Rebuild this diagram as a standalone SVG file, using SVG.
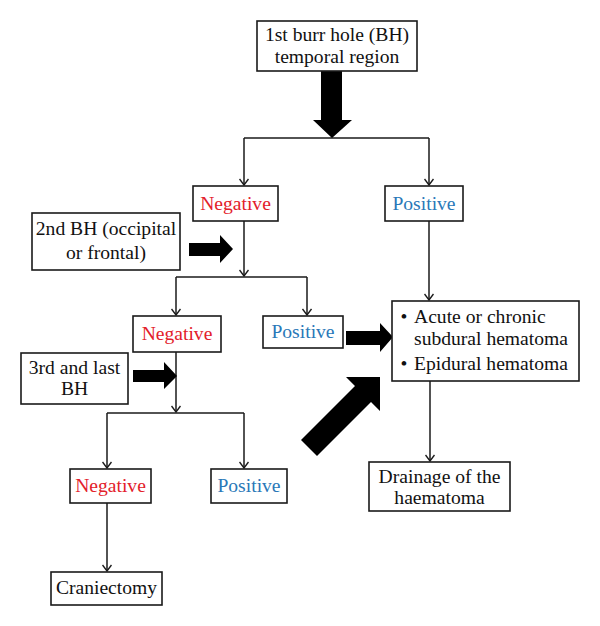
<svg xmlns="http://www.w3.org/2000/svg" width="600" height="626" viewBox="0 0 600 626">
<defs>
<style>
.box{fill:#fff;stroke:#1a1a1a;stroke-width:1.6}
text{font-family:'Liberation Serif','DejaVu Serif',serif;font-size:19.6px;fill:#111;text-anchor:middle}
.neg{fill:#e3202a}
.pos{fill:#2a78b8}
.ln{fill:none;stroke:#1a1a1a;stroke-width:1.5}
.big{fill:#000}
.st{text-anchor:start}
</style>
<marker id="ah" viewBox="0 0 10 10" refX="9" refY="5" markerWidth="10" markerHeight="10" markerUnits="userSpaceOnUse" orient="auto">
<path d="M3,0.5 L9,5 L3,9.5" fill="none" stroke="#1a1a1a" stroke-width="1.4"/>
</marker>
</defs>
<rect width="600" height="626" fill="#fff"/>
<g id="connectors">
<path class="ln" d="M244,138 H429"/>
<path class="ln" d="M244,138 V185" marker-end="url(#ah)"/>
<path class="ln" d="M429,138 V185" marker-end="url(#ah)"/>
<path class="ln" d="M244,221 V276" marker-end="url(#ah)"/>
<path class="ln" d="M176,277 H307"/>
<path class="ln" d="M176,277 V315" marker-end="url(#ah)"/>
<path class="ln" d="M307,277 V315" marker-end="url(#ah)"/>
<path class="ln" d="M429,221 V300" marker-end="url(#ah)"/>
<path class="ln" d="M176,352 V412" marker-end="url(#ah)"/>
<path class="ln" d="M107,413 H244"/>
<path class="ln" d="M107,413 V468" marker-end="url(#ah)"/>
<path class="ln" d="M244,413 V468" marker-end="url(#ah)"/>
<path class="ln" d="M107,503 V571" marker-end="url(#ah)"/>
<path class="ln" d="M430,381 V461" marker-end="url(#ah)"/>
<polygon class="big" points="321,71 342,71 342,120 352,120 332,138 313,120 321,120"/>
<polygon class="big" points="189,243 220,243 220,235 233,249 220,263 220,256 189,256"/>
<polygon class="big" points="133,370 164,370 164,362 177,376 164,389 164,382 133,382"/>
<polygon class="big" points="346,331 380,331 380,323 393,337 380,352 380,345 346,345"/>
<polygon class="big" points="301,440 355,386 346,377 380,377 380,411 371,402 317,456"/>
</g>
<g id="n1"><rect class="box" x="257" y="21" width="160" height="50"/><text x="337" y="41">1st burr hole (BH)</text><text x="337" y="63">temporal region</text></g>
<g id="neg1"><rect class="box" x="193" y="186" width="85" height="35"/><text class="neg" x="235.5" y="210">Negative</text></g>
<g id="pos1"><rect class="box" x="385" y="186" width="78" height="35"/><text class="pos" x="424" y="210">Positive</text></g>
<g id="bh2"><rect class="box" x="32" y="213" width="148" height="57"/><text x="106" y="235">2nd BH (occipital</text><text x="106" y="259">or frontal)</text></g>
<g id="neg2"><rect class="box" x="133" y="316" width="88" height="36"/><text class="neg" x="177" y="340">Negative</text></g>
<g id="pos2"><rect class="box" x="263" y="316" width="80" height="32"/><text class="pos" x="303" y="338">Positive</text></g>
<g id="res"><rect class="box" x="392" y="301" width="187" height="80"/>
<text x="404" y="323">•</text><text class="st" x="414" y="323">Acute or chronic</text>
<text class="st" x="414" y="345">subdural hematoma</text>
<text x="404" y="370">•</text><text class="st" x="414" y="370">Epidural hematoma</text></g>
<g id="bh3"><rect class="box" x="21" y="353" width="107" height="51"/><text x="74.5" y="374">3rd and last</text><text x="74.5" y="395">BH</text></g>
<g id="neg3"><rect class="box" x="70" y="469" width="81" height="34"/><text class="neg" x="110.5" y="492">Negative</text></g>
<g id="pos3"><rect class="box" x="211" y="469" width="76" height="34"/><text class="pos" x="249" y="492">Positive</text></g>
<g id="drain"><rect class="box" x="369" y="462" width="141" height="49"/><text x="439.5" y="483">Drainage of the</text><text x="439.5" y="504">haematoma</text></g>
<g id="cran"><rect class="box" x="51" y="572" width="111" height="33"/><text x="106.5" y="594">Craniectomy</text></g>
</svg>
